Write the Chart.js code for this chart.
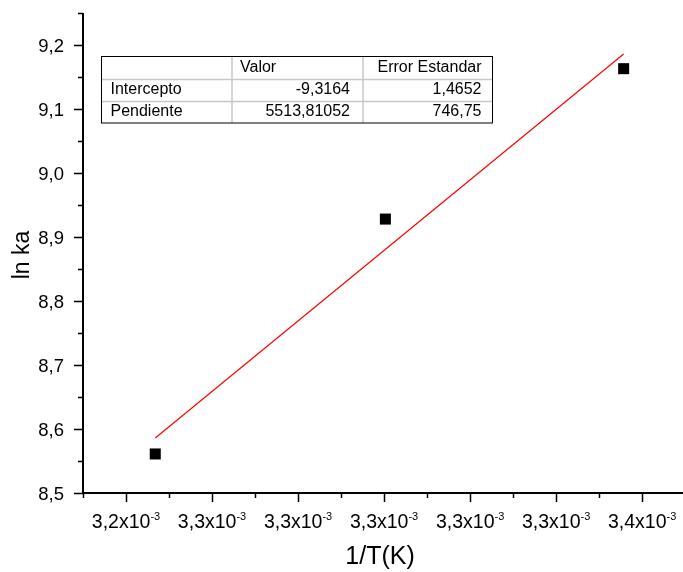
<!DOCTYPE html>
<html>
<head>
<meta charset="utf-8">
<script src="https://cdn.jsdelivr.net/npm/chart.js@4/dist/chart.umd.min.js"></script>
<style>
  html, body { margin: 0; padding: 0; background: #ffffff; }
  #wrap { width: 683px; height: 572px; }
</style>
</head>
<body>
<div id="wrap"><canvas id="arrhenius" width="683" height="572"></canvas></div>
<script>
// measured points: 1/T and ln ka
var invT = [0.0032468, 0.0033003, 0.0033557];
var lnKa = [8.561, 8.928, 9.163];

// ends of the red fit line
var fitX = [0.0032468, 0.0033557];
var fitY = [8.586, 9.186];

// axis ticks
var xTicks = [0.00324, 0.00326, 0.00328, 0.0033, 0.00332, 0.00334, 0.00336];
var xTickLabels = ["3,2", "3,3", "3,3", "3,3", "3,3", "3,3", "3,4"];
var xMinor = [0.00323, 0.00325, 0.00327, 0.00329, 0.00331, 0.00333, 0.00335];
var yTicks = [8.5, 8.6, 8.7, 8.8, 8.9, 9.0, 9.1, 9.2];
var yTickLabels = ["8,5", "8,6", "8,7", "8,8", "8,9", "9,0", "9,1", "9,2"];
var yMinor = [8.55, 8.65, 8.75, 8.85, 8.95, 9.05, 9.15, 9.25];

// fit results table
var tableHeader = ["", "Valor", "Error Estandar"];
var tableRows = [
  ["Intercepto", "-9,3164", "1,4652"],
  ["Pendiente", "5513,81052", "746,75"]
];

(function () {
  "use strict";

  var FONT = "'Liberation Sans', Arial, sans-serif";

  function toPoints(xs, ys) {
    return xs.map(function (x, i) { return { x: x, y: ys[i] }; });
  }

  // draws axes, ticks, labels, titles and the results table
  var decorPlugin = {
    id: "decor",
    afterDraw: function (chart) {
      var ctx = chart.ctx;
      var area = chart.chartArea;
      var xs = chart.scales.x;
      var ys = chart.scales.y;
      ctx.save();

      // axis lines
      ctx.strokeStyle = "#000000";
      ctx.lineWidth = 2;
      ctx.beginPath();
      ctx.moveTo(area.left, area.top);
      ctx.lineTo(area.left, area.bottom);
      ctx.lineTo(area.right, area.bottom);
      ctx.stroke();

      // ticks
      ctx.lineWidth = 1.5;
      ctx.beginPath();
      xTicks.forEach(function (v) {
        var px = Math.round(xs.getPixelForValue(v)) + 0.5;
        ctx.moveTo(px, area.bottom);
        ctx.lineTo(px, area.bottom + 9);
      });
      xMinor.forEach(function (v) {
        var px = Math.round(xs.getPixelForValue(v)) + 0.5;
        ctx.moveTo(px, area.bottom);
        ctx.lineTo(px, area.bottom + 5);
      });
      yTicks.forEach(function (v) {
        var py = Math.round(ys.getPixelForValue(v)) + 0.5;
        ctx.moveTo(area.left, py);
        ctx.lineTo(area.left - 9, py);
      });
      yMinor.forEach(function (v) {
        var py = Math.round(ys.getPixelForValue(v)) + 0.5;
        ctx.moveTo(area.left, py);
        ctx.lineTo(area.left - 5, py);
      });
      ctx.stroke();

      ctx.fillStyle = "#000000";
      ctx.textBaseline = "alphabetic";

      // y tick labels
      ctx.font = "18.5px " + FONT;
      ctx.textAlign = "right";
      yTicks.forEach(function (v, i) {
        ctx.fillText(yTickLabels[i], area.left - 19, ys.getPixelForValue(v) + 6.5);
      });

      // x tick labels with superscript exponent
      ctx.textAlign = "left";
      xTicks.forEach(function (v, i) {
        var main = xTickLabels[i] + "x10";
        var sup = "-3";
        ctx.font = "19.5px " + FONT;
        var w1 = ctx.measureText(main).width;
        ctx.font = "11px " + FONT;
        var w2 = ctx.measureText(sup).width;
        var x0 = xs.getPixelForValue(v) - (w1 + w2) / 2;
        ctx.font = "19.5px " + FONT;
        ctx.fillText(main, x0, 528);
        ctx.font = "11px " + FONT;
        ctx.fillText(sup, x0 + w1, 520);
      });

      // axis titles
      ctx.font = "25px " + FONT;
      ctx.textAlign = "center";
      ctx.fillText("1/T(K)", 380, 564);
      ctx.save();
      ctx.translate(29, 255);
      ctx.rotate(-Math.PI / 2);
      ctx.font = "23px " + FONT;
      ctx.fillText("ln ka", 0, 0);
      ctx.restore();

      // results table
      var tx = 101.5, ty = 56.5, tw = 391, rowH = 22;
      var cols = [tx, 232, 363, tx + tw];
      var th = rowH * (tableRows.length + 1) + 0.5;
      ctx.strokeStyle = "#c8c8c8";
      ctx.lineWidth = 1.5;
      ctx.beginPath();
      for (var r = 1; r <= tableRows.length; r++) {
        var ly = Math.round(ty + r * rowH) + 0.5;
        ctx.moveTo(tx, ly);
        ctx.lineTo(tx + tw, ly);
      }
      ctx.moveTo(cols[1], ty);
      ctx.lineTo(cols[1], ty + th);
      ctx.moveTo(cols[2], ty);
      ctx.lineTo(cols[2], ty + th);
      ctx.stroke();
      ctx.strokeStyle = "#000000";
      ctx.lineWidth = 1;
      ctx.strokeRect(tx, ty, tw, th);

      ctx.font = "16px " + FONT;
      ctx.textAlign = "left";
      ctx.fillText(tableHeader[1], cols[1] + 8, ty + 15.5);
      ctx.textAlign = "right";
      ctx.fillText(tableHeader[2], cols[3] - 11, ty + 15.5);
      tableRows.forEach(function (row, i) {
        var by = ty + 15.5 + (i + 1) * rowH;
        ctx.textAlign = "left";
        ctx.fillText(row[0], tx + 9, by);
        ctx.textAlign = "right";
        ctx.fillText(row[1], cols[2] - 13, by);
        ctx.fillText(row[2], cols[3] - 11, by);
      });

      ctx.restore();
    }
  };

  function initChart() {
    var canvas = document.getElementById("arrhenius");
    new Chart(canvas.getContext("2d"), {
      type: "scatter",
      data: {
        datasets: [
          {
            label: "fit",
            data: toPoints(fitX, fitY),
            showLine: true,
            borderColor: "#ff0000",
            borderWidth: 1.2,
            pointRadius: 0,
            fill: false
          },
          {
            label: "ln ka",
            data: toPoints(invT, lnKa),
            pointStyle: "rect",
            pointRadius: 7.8,
            pointBorderWidth: 0,
            backgroundColor: "#000000",
            borderColor: "#000000"
          }
        ]
      },
      options: {
        responsive: false,
        animation: false,
        layout: { autoPadding: false, padding: { top: 13, right: 0, left: 0, bottom: 0 } },
        plugins: {
          legend: { display: false },
          tooltip: { enabled: false }
        },
        scales: {
          x: {
            type: "linear",
            min: 0.00323,
            max: 0.0033695,
            grid: { display: false },
            border: { display: false },
            ticks: { display: false },
            afterFit: function (scale) { scale.height = 79; }
          },
          y: {
            type: "linear",
            min: 8.5,
            max: 9.25,
            grid: { display: false },
            border: { display: false },
            ticks: { display: false },
            afterFit: function (scale) { scale.width = 83; }
          }
        }
      },
      plugins: [decorPlugin]
    });
  }

  if (document.readyState === "loading") {
    document.addEventListener("DOMContentLoaded", initChart);
  } else {
    initChart();
  }
})();
</script>
</body>
</html>
